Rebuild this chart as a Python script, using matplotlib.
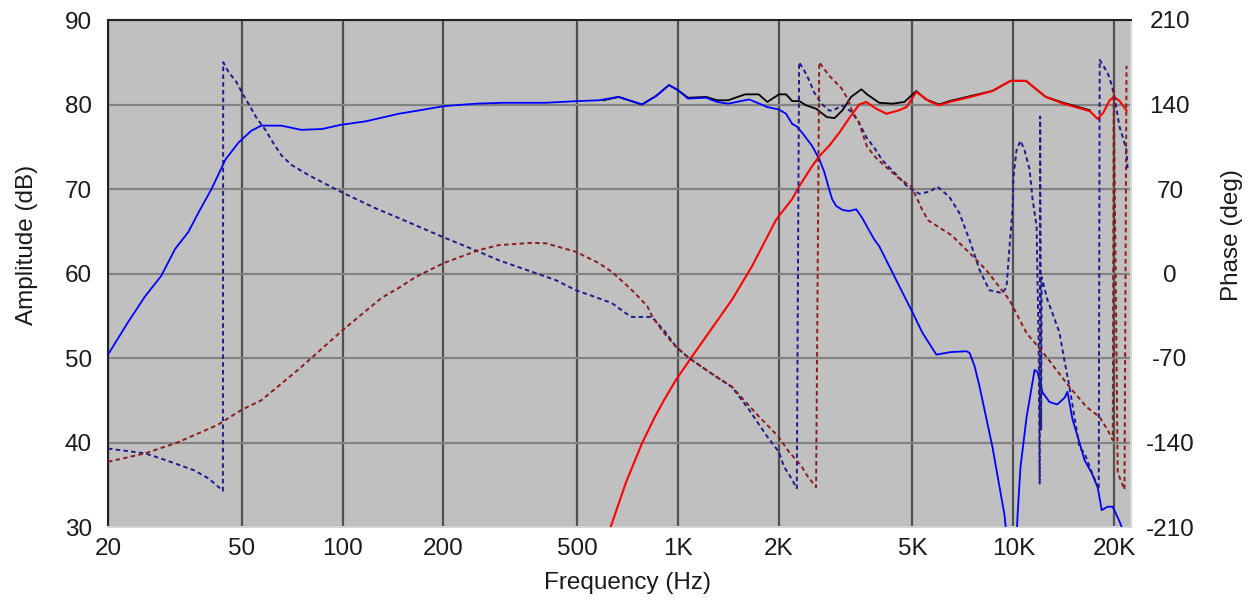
import matplotlib
matplotlib.use("Agg")
import matplotlib.pyplot as plt
from matplotlib.ticker import FixedLocator, NullLocator, FixedFormatter

plt.rcParams['font.family'] = ['Liberation Sans', 'DejaVu Sans']
plt.rcParams['axes.unicode_minus'] = False

# ---- amplitude curves (dB) -------------------------------------------------
woofer_f = [20, 23, 25.8, 28.8, 31.7, 34.7, 37.2, 40.7, 44.8, 49, 53.5, 57.3, 65.7, 75.4, 87, 99,
            117, 147, 169, 200, 250, 300, 400, 500, 581, 665, 781, 860, 940, 1000, 1071, 1213,
            1307, 1410, 1630, 1846, 2000, 2100, 2190, 2260, 2340, 2510, 2640, 2730, 2820, 2880,
            2960, 3100, 3240, 3400, 3550, 3700, 3850, 3983, 4500, 5000, 5350, 5890, 6500, 7244,
            7400, 7660, 7924, 8652, 9404, 9800, 10100, 10276, 10492, 10940, 11300, 11560, 11800,
            12216, 12800, 13500, 14200, 14480, 15000, 15730, 16290, 17100, 17820, 18320, 19090,
            19760, 20300, 20730, 21500]
woofer_db = [50.4, 54.3, 57.3, 59.7, 62.9, 64.9, 67.2, 70.0, 73.5, 75.5, 76.9, 77.5, 77.5, 77.0,
             77.1, 77.6, 78.0, 78.9, 79.3, 79.8, 80.1, 80.2, 80.2, 80.4, 80.5, 80.9, 80.0, 81.0,
             82.3, 81.7, 80.7, 80.8, 80.3, 80.1, 80.6, 79.7, 79.4, 78.9, 77.7, 77.4, 76.7, 75.1,
             73.5, 72.0, 70.0, 68.8, 68.0, 67.5, 67.4, 67.6, 66.5, 65.2, 64.0, 63.2, 59.0, 55.4,
             53.0, 50.4, 50.7, 50.8, 50.6, 49.0, 46.6, 39.5, 31.4, 24.0, 24.0, 31.2, 37.1, 43.0,
             46.3, 48.6, 48.3, 45.9, 44.8, 44.5, 45.3, 46.0, 42.7, 40.0, 37.9, 36.4, 34.7, 32.0,
             32.4, 32.4, 31.4, 30.6, 29.0]

tweeter_f = [630, 700, 781, 850, 908, 986, 1102, 1449, 1664, 1963, 2188, 2296, 2510, 2640, 2820,
             3030, 3240, 3470, 3640, 3900, 4180, 4550, 4800, 5130, 5600, 6000, 6440, 7450, 8650,
             9800, 10900, 12470, 14090, 15950, 16900, 17820, 18500, 19350, 19900, 20730, 21720]
tweeter_db = [30.0, 35.3, 39.9, 42.9, 45.0, 47.4, 50.2, 56.9, 60.9, 66.4, 68.8, 70.3, 72.7, 73.9,
              75.1, 76.7, 78.4, 80.0, 80.3, 79.5, 78.9, 79.3, 79.7, 81.5, 80.4, 79.9, 80.3, 80.9,
              81.6, 82.8, 82.8, 80.9, 80.1, 79.5, 79.2, 78.3, 79.0, 80.5, 80.9, 80.4, 79.3]

sum_f = [600, 665, 781, 860, 940, 1000, 1071, 1213, 1307, 1410, 1585, 1740, 1846, 2000, 2100,
         2190, 2300, 2410, 2580, 2780, 2930, 3090, 3280, 3520, 3660, 3980, 4360, 4730, 5130,
         5480, 6000, 6440, 7450, 8650, 9800, 10900, 12470, 14090, 15950, 16900]
sum_db = [80.5, 80.9, 80.0, 81.0, 82.3, 81.7, 80.8, 80.9, 80.5, 80.5, 81.2, 81.2, 80.3, 81.2,
          81.2, 80.4, 80.4, 79.9, 79.5, 78.5, 78.4, 79.3, 80.9, 81.8, 81.2, 80.2, 80.1, 80.3,
          81.6, 80.6, 80.0, 80.4, 81.0, 81.6, 82.8, 82.8, 80.9, 80.2, 79.6, 79.3]

# ---- phase curves (deg) ----------------------------------------------------
woofer_ph_f = [20, 25.8, 30, 36.1, 40, 44.0, 44.1, 45.7, 48.2, 50.6, 53.1, 55.4, 58.9, 62.2, 65.7,
               70.4, 79.2, 99.3, 125.5, 147, 200, 255, 292, 367, 432, 496, 560, 635, 700, 729,
               836, 920, 986, 1078, 1260, 1449, 1630, 1833, 2000, 2070, 2170, 2260, 2296, 2380,
               2460, 2546, 2670, 2820, 2900, 3070, 3150, 3280, 3450, 3640, 3850, 4060, 4470,
               4830, 5240, 5650, 5930, 6440, 6900, 7400, 7924, 8474, 9275, 9534, 9730, 9932,
               10000, 10207, 10492, 10790, 11170, 11403, 11720, 11885, 11970, 12010, 12090,
               12133, 12631, 13071, 13710, 14184, 14683, 15730, 16290, 16860, 17950, 18070,
               19090, 19630, 20040, 20300, 20730, 21170, 21720, 21870]
woofer_ph = [-145, -149, -155, -163, -170, -180, 175, 167, 159, 148, 138, 129, 119, 108, 98,
             90, 81.5, 67.4, 54, 46, 30, 18, 11, 1.4, -5.5, -13.8, -19, -24.5, -33, -36,
             -36, -49, -60.7, -70, -83, -94, -113, -134, -148, -160, -169, -178, 175, 168,
             160, 150, 141, 135, 135, 139, 138, 134, 126, 113, 104, 94, 82,
             72, 66, 68, 72, 63.5, 50, 27.6, 2.8, -13.8, -16.3, -11, 22, 52.5,
             80, 102, 110, 102, 86, 61, 39, -60, -174, 130, -130,
             -3, -22, -33, -49, -72, -94, -144, -149, -160, -179, 177,
             166, 156, 145, 135, 121, 113, 102, 87]

tweeter_ph_f = [20, 25.8, 32.2, 42.4, 50, 57.3, 75, 100, 131, 147, 165, 200, 255, 292, 367, 404,
                496, 581, 635, 729, 810, 836, 900, 986, 1078, 1260, 1449, 1746, 1990, 2145, 2328,
                2420, 2580, 2636, 2820, 3070, 3200, 3310, 3450, 3660, 3900, 4180, 4550, 4960,
                5130, 5350, 5570, 6050, 6530, 7400, 8300, 9730, 10940, 12300, 13434, 14683,
                16520, 18070, 19090, 19760, 19900, 20450, 21420, 21720]
tweeter_ph = [-156, -149, -140, -125.5, -113, -105, -78, -47, -20, -12, -3, 8.6, 19.4, 23.5, 25.4, 25,
              18, 8.6, 1.4, -13.8, -27, -35, -48, -60.7, -70, -83, -94, -118.7, -135, -148, -159,
              -167, -177, 175, 164, 153.5, 145, 134, 126, 105, 95.5, 88, 79, 72,
              63.5, 52.5, 44, 37.6, 31.8, 16.9, 2.8, -22, -49.4, -66, -80, -94,
              -110.6, -119, -129.7, -138, 152, -165, -179, 172]

freq_ticks = [20, 50, 100, 200, 500, 1000, 2000, 5000, 10000, 20000]
freq_labels = ["20", "50", "100", "200", "500", "1K", "2K", "5K", "10K", "20K"]
amp_ticks = [30, 40, 50, 60, 70, 80, 90]
phase_ticks = [-210, -140, -70, 0, 70, 140, 210]

W, H = 1257, 603
fig = plt.figure(figsize=(W / 100, H / 100), dpi=100)
fig.patch.set_facecolor('white')
ax = fig.add_axes([108 / W, 76 / H, 1023 / W, 507 / H])
ax.set_facecolor('#c0c0c0')
ax.set_xscale('log')
ax.set_xlim(20, 22400)
ax.set_ylim(30, 90)
ax.xaxis.set_major_locator(FixedLocator(freq_ticks))
ax.xaxis.set_major_formatter(FixedFormatter(freq_labels))
ax.xaxis.set_minor_locator(NullLocator())
ax.set_yticks(amp_ticks)
ax.set_axisbelow(True)
ax.xaxis.grid(True, color='#505050', lw=1.6)
ax.yaxis.grid(True, color='#828282', lw=1.6)

txt = '#1a1a1a'
ax.tick_params(axis='both', length=0, labelsize=17.5, colors=txt)
ax.tick_params(axis='y', pad=11.5)
ax.tick_params(axis='x', pad=8)

ax.plot(sum_f, sum_db, color='black', lw=1.3, zorder=3)
ax.plot(woofer_f, woofer_db, color='#0000ff', lw=1.3, zorder=4)
ax.plot(tweeter_f, tweeter_db, color='#ff0000', lw=1.5, zorder=5)

ax2 = ax.twinx()
ax2.set_ylim(-210, 210)
ax2.set_yticks(phase_ticks)
ax2.tick_params(axis='y', length=0, labelsize=17.5, colors=txt, pad=28)
for lab in ax2.get_yticklabels():
    lab.set_horizontalalignment('center')
ax2.plot(woofer_ph_f, woofer_ph, color='#1c1c8c', lw=1.4, ls=(0, (2.3, 1.7)))
ax2.plot(tweeter_ph_f, tweeter_ph, color='#8c1c1c', lw=1.4, ls=(0, (2.3, 1.7)))

for s in ax2.spines.values():
    s.set_visible(False)
ax.spines['top'].set_color('#222222')
ax.spines['left'].set_color('#222222')
ax.spines['bottom'].set_color('#d4d4d4')
ax.spines['right'].set_color('#d4d4d4')
for s in ax.spines.values():
    s.set_linewidth(1.5)

ax.set_xlabel('Frequency (Hz)', fontsize=17.5, color=txt)
ax.xaxis.set_label_coords(0.508, -0.110)
ax.xaxis.label.set_verticalalignment('center')
ax.set_ylabel('Amplitude (dB)', fontsize=17.5, color=txt)
ax.yaxis.set_label_coords(-0.079, 0.556)
ax.yaxis.label.set_verticalalignment('center')
ax2.set_ylabel('Phase (deg)', fontsize=17.5, color=txt)
ax2.yaxis.set_label_coords(1.0987, 0.575)
ax2.yaxis.label.set_verticalalignment('center')

fig.savefig('out.png', dpi=100)
